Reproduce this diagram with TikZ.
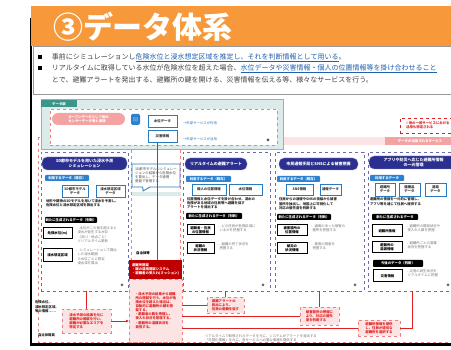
\documentclass[tikz,border=0pt]{standalone}
\usepackage{fontspec}
\setmainfont{Noto Sans CJK JP}
\usetikzlibrary{arrows.meta,shapes.callouts}
\definecolor{orng}{HTML}{F7993A}
\definecolor{tealbg}{HTML}{DCEBEA}
\definecolor{tealbd}{HTML}{8DB6B4}
\definecolor{tealtab}{HTML}{3D9488}
\definecolor{pillpk}{HTML}{F4A3A3}
\definecolor{navy}{HTML}{2B2F8F}
\definecolor{btag}{HTML}{2D82D0}
\definecolor{bbd}{HTML}{2A7AC0}
\definecolor{colbd}{HTML}{6A6AB0}
\definecolor{redl}{HTML}{E02020}
\definecolor{dred}{HTML}{C00000}
\definecolor{pinkf}{HTML}{FDE4E4}
\definecolor{pinkd}{HTML}{F08080}
\definecolor{ulblue}{HTML}{1F5FB0}
\newcommand\bx[7]{\node[#6,minimum width={#4-#2},minimum height={#5-#3}] (#1) at ({(#2+#4)/2},{(#3+#5)/2}) {#7};}
\tikzset{
 every node/.style={inner sep=0pt,outer sep=0pt},
 fA/.style={font=\fontsize{3.4}{4.1}\selectfont},
 fAb/.style={font=\fontsize{3.4}{4.1}\selectfont\bfseries},
 fB/.style={font=\fontsize{4}{4.8}\selectfont\bfseries},
 fC/.style={font=\fontsize{7}{11}\selectfont},
 colbox/.style={draw=colbd,dashed,line width=0.6pt,fill=white},
 navpill/.style={fill=navy,draw=navy!50,rounded corners=5pt,text=white,fB,align=center},
 bluetag/.style={fill=btag,text=white,fAb,rounded corners=0.8pt},
 bluebox/.style={draw=bbd,line width=0.9pt,fill=white,fAb,align=center,text=black!80},
 blktag/.style={fill=black,text=white,fAb,rounded corners=0.8pt},
 blkbox/.style={draw=black,line width=1pt,fill=white,fAb,align=center},
 gtxt/.style={fA,text=black!55,align=left,anchor=north west},
 btxt/.style={fAb,text=black!85,align=left,anchor=north west},
 redln/.style={draw=redl,line width=0.9pt},
 pkbox/.style={draw=pinkd,dashed,line width=0.6pt,fill=pinkf,fAb,text=redl,align=left},
 icon/.style={circle,fill=black!60,minimum size=3pt},
}
\begin{document}
\begin{tikzpicture}[x=1pt,y=-1pt]
\useasboundingbox (0,0) rectangle (451,350);
\clip (0,0) rectangle (451,350);
\fill[white] (0,0) rectangle (451,350);
% frame
\fill[black] (29.5,18) rectangle (31.5,346);
\fill[black] (29.5,343.5) rectangle (451,346);
% title bar
\bx{tbar}{31}{6}{451}{46}{fill=orng}{}
\node[anchor=west,text=white,font=\fontsize{30}{32}\selectfont\bfseries] (title) at (53,27) {③データ体系};
% bullet box
\bx{bul}{33}{46}{455}{94}{draw=black!40,line width=0.8pt,fill=white}{}
\bx{sq1}{38}{55.5}{42}{59.5}{fill=black}{}
\bx{sq2}{38}{66.5}{42}{70.5}{fill=black}{}
\node[fC,anchor=west,text=black!75] (l1) at (52,57.5) {事前にシミュレーションし\textcolor{ulblue}{\underline{危険水位と浸水想定区域を推定し、それを判断情報として用いる}}。};
\node[fC,anchor=west,text=black!75] (l2) at (52,68.5) {リアルタイムに取得している水位が危険水位を超えた場合、\textcolor{ulblue}{\underline{水位データや災害情報・個人の位置情報等を掛け合わせること}}};
\node[fC,anchor=west,text=black!75] (l3) at (52,79.5) {とで、避難アラートを発出する、避難所の鍵を開ける、災害情報を伝える等、様々なサービスを行う。};
% services area
\draw[pinkd,dashed,line width=0.5pt] (38,137) rectangle (455,342);
\bx{svband}{283}{137.5}{455}{145}{fill=pinkf}{}
\bx{svlabel}{385}{137.5}{455}{145}{fill=pillpk,text=white,fAb}{データが活用されるサービス}
\bx{note}{400}{118}{455}{133}{draw=redl,dashed,line width=0.6pt,fill=white,text=redl,fAb,align=left}{※他の一般サービスにおける\\\ 活用も想定される}
% data group
\bx{dgrp}{41}{100}{283}{150}{fill=tealbg,draw=tealbd,line width=1pt}{}
\bx{dtab}{41}{100}{77}{107.5}{fill=tealtab,text=white,fAb}{データ群}
\bx{dinner}{50}{109}{277}{145}{fill=white,draw=pinkd,dashed,line width=0.5pt}{}
\bx{opill}{52}{113}{125}{125}{fill=pillpk,text=white,fAb,rounded corners=6pt,align=left}{オープンデータとして他の\\センサーデータ等と連携}
\bx{dbicon}{131}{114}{140}{125}{fill=btag,rounded corners=1.5pt,text=white,font=\fontsize{5}{5}\selectfont}{▤}
\bx{suii}{148}{115}{177}{127}{bluebox}{水位データ}
\bx{saigai}{148}{130}{177}{142}{bluebox}{災害情報}
\node[fA,text=bbd,anchor=west] (t1) at (183,123) {→外部サービスが利用};
\node[fA,text=bbd,anchor=west] (t2) at (183,139) {→外部サービスが活用};
\node[icon,fill=black!70] (ic0) at (268,140) {};
% columns
\bx{col1}{41}{152}{128}{291}{colbox}{}
\bx{col3}{183}{152}{270}{291}{colbox}{}
\bx{col4}{275}{152}{364}{291}{colbox}{}
\bx{col5}{368}{152}{460}{291}{colbox}{}
\draw[pinkd,dashed,line width=0.5pt] (131,150) -- (131,260) (180,150) -- (180,260);
% col1
\bx{p1}{42}{157}{127}{170}{navpill}{3D都市モデルを用いた浸水予測\\シミュレーション}
\bx{bt1}{45}{175}{89}{181}{bluetag}{利用するデータ（既存）}
\bx{b11}{62}{185}{88}{197}{bluebox}{3D都市モデル\\データ}
\bx{b12}{96}{185}{125}{197}{bluebox}{浸水想定区域\\データ}
\node[btxt] (x1) at (46,199.5) {地形や建物の3Dモデルを用いて浸水を予測し、\\危険水位と浸水想定区域を算出する};
\bx{kt1}{45}{217}{97}{223}{blktag}{新たに生成されるデータ（判断）}
\bx{k11}{43}{228}{72}{239}{blkbox}{危険水位(m)}
\node[gtxt] (g11) at (76,227) {…水位がこの値を超えると\\\ \ 浸水が発生する水位\\\ \ （河川・地点ごと）\\\ \ ※リアルタイム更新};
\bx{k12}{43}{249}{72}{262}{blkbox}{浸水想定区域}
\node[gtxt] (g12) at (76,249) {…シミュレーションで算出\\\ \ した浸水範囲\\\ \ ※水位ごとに想定\\\ \ 浸水深を算出};
\node[icon] (ic1) at (122,285) {};
% col2
\bx{call}{132}{164}{180}{187}{rectangle callout,callout absolute pointer={(143,191)},draw=bbd,line width=0.8pt,fill=white,fA,align=left,text=black!70}{3D都市モデルのシミュレー\\ションの結果から危険水位\\を算出し、データ連携\\基盤で管理する}
\bx{tband}{132}{192}{181}{196}{fill=tealbg}{}
\coordinate (rx) at (157,0);
\node[fAb,anchor=center] (jt) at (143,253) {自治体等};
\bx{rbox}{129}{260}{182}{279}{fill=dred,text=white,fAb,align=left}{避難所開錠\\・鍵の遠隔開錠システム\\・避難者の受入れ(ミッション)}
\bx{pbox}{129}{279}{182}{342}{pkbox}{・浸水予測の結果から避難\\\ 所の開錠を行う。水位が危\\\ 険水位を超えた場合は、\\\ 自動的に避難所の鍵を開\\\ 錠する。\\・避難者の数を把握し、\\\ 受入れ状況を管理する。\\・避難所の混雑状況を\\\ 発信する。}
\draw[redln] (saigai.south -| rx) -- (rbox.north -| rx);
% col3
\bx{p3}{185}{158}{247}{170}{navpill}{リアルタイムの避難アラート}
\bx{bt3}{186}{176}{231}{182}{bluetag}{利用するデータ（既存）}
\bx{b31}{192}{184}{226}{195}{bluebox}{個人の位置情報}
\bx{b32}{229}{184}{262}{195}{bluebox}{水位情報}
\node[btxt] (x3) at (187,197.5) {位置情報と水位データを掛け合わせ、浸水の\\危険がある地域の住民等へ避難を促す\\アラートを発出する};
\bx{kt3}{186}{213}{242}{219}{blktag}{新たに生成されるデータ（判断）}
\bx{k31}{187}{225}{214}{235}{blkbox}{避難者・住民\\の位置情報}
\node[gtxt] (g31) at (218,225) {…どの住民が危険区域に\\\ \ いるかを把握する};
\bx{k32}{187}{243}{214}{254}{blkbox}{避難の\\状況情報}
\node[gtxt] (g32) at (218,243) {…避難の完了状況を\\\ \ 把握する};
\node[icon] (ic3) at (263,285) {};
% col4
\bx{p4}{279}{158}{358}{170}{navpill}{市民通報手段とSNSによる被害把握}
\bx{bt4}{277}{176}{320}{182}{bluetag}{利用するデータ（既存）}
\bx{b41}{286}{184}{313}{195}{bluebox}{SNS情報}
\bx{b42}{320}{184}{341}{195}{bluebox}{通報データ}
\node[btxt] (x4) at (279,198) {住民からの通報やSNSの投稿から被害\\箇所を抽出し、地図上に可視化して\\対応の優先度を判断する};
\bx{kt4}{277}{214}{331}{220}{blktag}{新たに生成されるデータ（判断）}
\bx{k41}{277}{225}{307}{236}{blkbox}{被害箇所の\\位置情報}
\node[gtxt] (g41) at (311,225) {…通報のあった被害の\\\ \ 箇所を把握する};
\bx{k42}{277}{243}{307}{254}{blkbox}{被災の\\状況情報}
\node[gtxt] (g42) at (311,243) {…被害の程度を\\\ \ 把握する};
\node[icon] (ic4) at (355,285) {};
% col5
\bx{p5}{369}{156}{458}{169}{navpill}{アプリや防災へ応じた避難所情報\\の一元管理}
\bx{bt5}{370}{175}{404}{181}{bluetag}{利用するデータ}
\bx{b51}{375}{183}{395}{196}{bluebox}{避難所\\データ}
\bx{b52}{399}{183}{420}{196}{bluebox}{備蓄品\\データ}
\bx{b53}{425}{183}{446}{196}{bluebox}{道路\\データ}
\node[btxt] (x5) at (370,198) {避難所の情報を一元的に管理し、\\アプリ等を通じて住民へ提供する};
\bx{kt5}{372}{214}{418}{220}{blktag}{新たに生成されるデータ}
\bx{k51}{372}{225}{402}{237}{blkbox}{避難所情報}
\node[gtxt] (g51) at (406,225) {…避難所の開設状況や\\\ \ 受入れ人数を把握};
\bx{k52}{372}{242}{402}{253}{blkbox}{避難所の\\混雑情報}
\node[gtxt] (g52) at (406,242) {…避難所ごとの混雑\\\ \ 状況を把握する};
\bx{kt6}{373}{260}{423}{267}{blktag}{今後のデータ（判断）}
\bx{k61}{373}{270}{402}{282}{blkbox}{災害情報}
\node[gtxt] (g61) at (406,270) {…災害の発生状況を\\\ \ リアルタイムに把握};
\node[icon] (ic5) at (448,285) {};
\coordinate (c5x) at (412,0);
% lower connectors
\bx{lbox}{62}{309}{111}{333}{pkbox}{浸水予測の結果を元に\\避難所の開錠を行い、\\避難が必要なエリアを\\特定する}
\draw[redln] (lbox.north |- col1.south) -- (lbox.north);
\draw[redln,-{Latex[length=3pt,width=3pt]}] (lbox.east) -- (lbox.east -| pbox.west);
\node[btxt] (lt) at (35,301) {危険水位、\\浸水想定区域、\\等の情報……};
\node[btxt] (lt2) at (38,334) {自治体職員};
\bx{ra}{207}{297}{244}{313}{pkbox}{避難アラートの\\発出により、\\住民の避難を促す}
\bx{rb}{300}{307}{339}{325}{pkbox}{被害箇所の把握に\\より、対応の優先\\度を判断する}
\bx{rc}{358}{320}{400}{336}{pkbox}{避難所情報を提供\\し、住民が適切な\\避難所を選択する}
\draw[redln] (ra.north |- col3.south) -- (ra.north);
\draw[redln] (ra.west -| pbox.east) -- (ra.west);
\draw[redln] (rb.north |- col4.south) -- (rb.north);
\draw[redln] (rb.west -| pbox.east) -- (rb.west);
\draw[redln] (col5.south -| c5x) |- (rc.east);
\draw[redln] (rc.west -| pbox.east) -- (rc.west);
\node[gtxt] (bt) at (205,335) {リアルタイムで取得されたデータを元に、システムがアラートを発出する\\「可視化情報」を元に、各サービスへ必要な情報を提供する};
\end{tikzpicture}
\end{document}
